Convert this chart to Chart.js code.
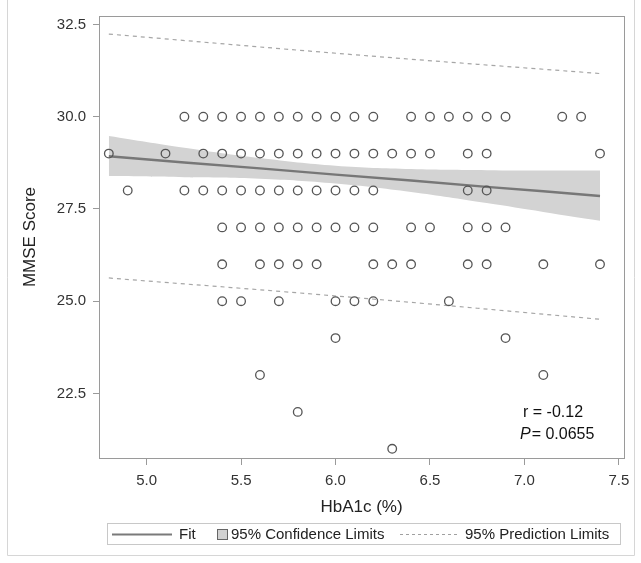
<!DOCTYPE html>
<html>
<head>
<meta charset="utf-8">
<script src="https://cdn.jsdelivr.net/npm/chart.js@4"></script>
<style>
  html, body { margin: 0; padding: 0; background: #fff; }
  #wrap { position: relative; width: 641px; height: 563px; }
</style>
</head>
<body>
<div id="wrap"><canvas id="grafico" width="641" height="563"></canvas></div>
<script>
// MMSE score levels and the HbA1c values observed at each level
const scoreLevels = [30, 29, 28, 27, 26, 25, 24, 23, 22, 21];
const hba1cAtScore = [
    [5.2, 5.3, 5.4, 5.5, 5.6, 5.7, 5.8, 5.9, 6.0, 6.1, 6.2, 6.4, 6.5, 6.6, 6.7, 6.8, 6.9, 7.2, 7.3],
    [4.8, 5.1, 5.3, 5.4, 5.5, 5.6, 5.7, 5.8, 5.9, 6.0, 6.1, 6.2, 6.3, 6.4, 6.5, 6.7, 6.8, 7.4],
    [4.9, 5.2, 5.3, 5.4, 5.5, 5.6, 5.7, 5.8, 5.9, 6.0, 6.1, 6.2, 6.7, 6.8],
    [5.4, 5.5, 5.6, 5.7, 5.8, 5.9, 6.0, 6.1, 6.2, 6.4, 6.5, 6.7, 6.8, 6.9],
    [5.4, 5.6, 5.7, 5.8, 5.9, 6.2, 6.3, 6.4, 6.7, 6.8, 7.1, 7.4],
    [5.4, 5.5, 5.7, 6.0, 6.1, 6.2, 6.6],
    [6.0, 6.9],
    [5.6, 7.1],
    [5.8],
    [6.3]
];

// regression fit and 95% confidence band
const bandX = [4.8, 5.2, 5.6, 6.0, 6.4, 6.8, 7.1, 7.4];
const fitY = [28.93, 28.76, 28.60, 28.43, 28.27, 28.10, 27.98, 27.85];
const confLower = [28.39, 28.36, 28.32, 28.19, 27.96, 27.66, 27.42, 27.18];
const confUpper = [29.48, 29.16, 28.88, 28.67, 28.58, 28.55, 28.54, 28.54];

// 95% prediction limits
const predX = [4.8, 6.1, 7.4];
const predLower = [25.63, 25.10, 24.51];
const predUpper = [32.24, 31.68, 31.17];

const xTicks = [5.0, 5.5, 6.0, 6.5, 7.0, 7.5];
const yTicks = [22.5, 25.0, 27.5, 30.0, 32.5];

const FONTE = "'Liberation Sans', Arial, Helvetica, sans-serif";

const pontos = [];
scoreLevels.forEach((score, i) => {
    hba1cAtScore[i].forEach(x => pontos.push({ x: x, y: score }));
});
const pares = (xs, ys) => xs.map((x, i) => ({ x: x, y: ys[i] }));

// moldura da área do gráfico, borda externa, legenda e anotação
const extras = {
    id: 'extras',
    afterDraw(chart) {
        const ctx = chart.ctx;
        const a = chart.chartArea;
        ctx.save();
        ctx.strokeStyle = '#9a9a9a';
        ctx.lineWidth = 1;
        ctx.strokeRect(Math.round(a.left) + 0.5, Math.round(a.top) + 0.5,
            Math.round(a.right - a.left), Math.round(a.bottom - a.top));

        // borda externa da figura
        ctx.strokeStyle = '#d6d6d6';
        ctx.beginPath();
        ctx.moveTo(7.5, 0);
        ctx.lineTo(7.5, 555.5);
        ctx.lineTo(634.5, 555.5);
        ctx.lineTo(634.5, 0);
        ctx.stroke();

        // anotação
        ctx.fillStyle = '#111';
        ctx.textBaseline = 'alphabetic';
        ctx.font = '16px ' + FONTE;
        ctx.fillText('r = -0.12', 523, 417);
        ctx.font = 'italic 16px ' + FONTE;
        ctx.fillText('P', 520, 439);
        const wP = ctx.measureText('P').width;
        ctx.font = '16px ' + FONTE;
        ctx.fillText('= 0.0655', 520 + wP + 1, 439);

        // legenda
        ctx.strokeStyle = '#c8c8c8';
        ctx.strokeRect(107.5, 523.5, 513, 21);
        const ly = 534.5;
        ctx.font = '15px ' + FONTE;
        ctx.fillStyle = '#222';
        ctx.textBaseline = 'middle';
        ctx.strokeStyle = '#7a7a7a';
        ctx.lineWidth = 2.2;
        ctx.beginPath();
        ctx.moveTo(112, ly);
        ctx.lineTo(172, ly);
        ctx.stroke();
        ctx.fillText('Fit', 179, ly);
        ctx.fillStyle = '#d2d2d2';
        ctx.fillRect(217, 529, 11, 11);
        ctx.strokeStyle = '#666';
        ctx.lineWidth = 1;
        ctx.strokeRect(217.5, 529.5, 10, 10);
        ctx.fillStyle = '#222';
        ctx.fillText('95% Confidence Limits', 231, ly);
        ctx.strokeStyle = '#a0a0a0';
        ctx.setLineDash([3, 3]);
        ctx.beginPath();
        ctx.moveTo(400, ly);
        ctx.lineTo(457, ly);
        ctx.stroke();
        ctx.setLineDash([]);
        ctx.fillText('95% Prediction Limits', 465, ly);
        ctx.restore();
    }
};

const ctx = document.getElementById('grafico').getContext('2d');
new Chart(ctx, {
    type: 'scatter',
    data: {
        datasets: [{
            label: 'Observações',
            data: pontos,
            pointRadius: 4.3,
            pointBorderWidth: 1.3,
            pointBorderColor: '#555',
            pointBackgroundColor: 'rgba(255,255,255,0)',
            showLine: false
        }, {
            label: 'Fit',
            type: 'line',
            data: pares(bandX, fitY),
            borderColor: '#777',
            borderWidth: 2.4,
            pointRadius: 0,
            tension: 0,
            fill: false
        }, {
            label: '95% Prediction Limits (inferior)',
            type: 'line',
            data: pares(predX, predLower),
            borderColor: '#a6a6a6',
            borderWidth: 1.2,
            borderDash: [4, 4],
            pointRadius: 0,
            tension: 0.4,
            fill: false
        }, {
            label: '95% Prediction Limits (superior)',
            type: 'line',
            data: pares(predX, predUpper),
            borderColor: '#a6a6a6',
            borderWidth: 1.2,
            borderDash: [4, 4],
            pointRadius: 0,
            tension: 0.4,
            fill: false
        }, {
            label: '95% Confidence Limits (inferior)',
            type: 'line',
            data: pares(bandX, confLower),
            borderWidth: 0,
            borderColor: 'rgba(0,0,0,0)',
            pointRadius: 0,
            tension: 0.4,
            fill: false
        }, {
            label: '95% Confidence Limits (superior)',
            type: 'line',
            data: pares(bandX, confUpper),
            borderWidth: 0,
            borderColor: 'rgba(0,0,0,0)',
            backgroundColor: '#d3d3d3',
            pointRadius: 0,
            tension: 0.4,
            fill: 4
        }]
    },
    options: {
        responsive: false,
        animation: false,
        layout: { padding: { top: 13, right: 17, bottom: 0, left: 0 } },
        plugins: {
            legend: { display: false },
            tooltip: { enabled: false }
        },
        scales: {
            x: {
                type: 'linear',
                min: 4.748,
                max: 7.527,
                afterBuildTicks: scale => { scale.ticks = xTicks.map(v => ({ value: v })); },
                afterFit: scale => { scale.height = 105; },
                grid: { drawOnChartArea: false, drawTicks: true, tickLength: 7, color: '#9a9a9a' },
                border: { display: true, color: '#9a9a9a' },
                ticks: {
                    padding: 7,
                    color: '#333',
                    font: { family: FONTE, size: 15 },
                    callback: v => Number(v).toFixed(1)
                },
                title: {
                    display: true,
                    text: 'HbA1c (%)',
                    color: '#222',
                    font: { family: FONTE, size: 17 },
                    padding: { top: 0, bottom: 45 }
                }
            },
            y: {
                type: 'linear',
                min: 20.75,
                max: 32.73,
                afterBuildTicks: scale => { scale.ticks = yTicks.map(v => ({ value: v })); },
                afterFit: scale => { scale.width = 99; },
                grid: { drawOnChartArea: false, drawTicks: true, tickLength: 6, color: '#9a9a9a' },
                border: { display: true, color: '#9a9a9a' },
                ticks: {
                    padding: 7,
                    color: '#333',
                    font: { family: FONTE, size: 15 },
                    callback: v => Number(v).toFixed(1)
                },
                title: {
                    display: true,
                    text: 'MMSE Score',
                    color: '#222',
                    font: { family: FONTE, size: 17 },
                    padding: { top: 20, bottom: 0 }
                }
            }
        }
    },
    plugins: [extras]
});
</script>
</body>
</html>
